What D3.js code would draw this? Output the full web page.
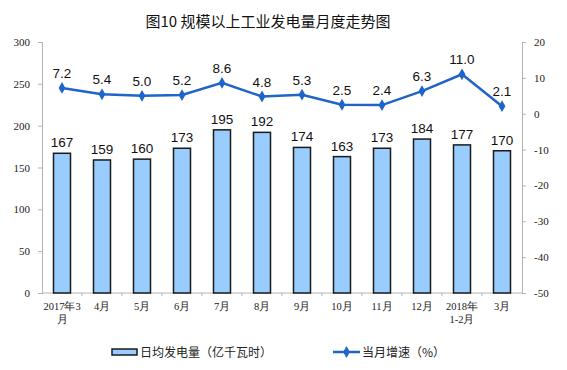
<!DOCTYPE html>
<html>
<head>
<meta charset="utf-8">
<script src="https://cdn.jsdelivr.net/npm/d3@7"></script>
<style>
  body { margin: 0; background: #fff; }
  svg { display: block; }
</style>
</head>
<body>
<svg id="chart" width="567" height="370"></svg>
<script>
// data
const months = ['2017年3月', '4月', '5月', '6月', '7月', '8月', '9月', '10月', '11月', '12月', '2018年1-2月', '3月'];
const monthLines = [['2017年3', '月'], ['4月'], ['5月'], ['6月'], ['7月'], ['8月'], ['9月'], ['10月'], ['11月'], ['12月'], ['2018年', '1-2月'], ['3月']];
const dailyOutput = [167, 159, 160, 173, 195, 192, 174, 163, 173, 184, 177, 170];
const growth = [7.2, 5.4, 5.0, 5.2, 8.6, 4.8, 5.3, 2.5, 2.4, 6.3, 11.0, 2.1];
const leftTicks = [0, 50, 100, 150, 200, 250, 300];
const rightTicks = [-50, -40, -30, -20, -10, 0, 10, 20];

const svg = d3.select('#chart');
const margin = { top: 42, right: 45, bottom: 77, left: 42 };
const W = 567, H = 370;
const plotW = W - margin.left - margin.right;
const plotH = H - margin.top - margin.bottom;

const serif = '"Liberation Serif", "Times New Roman", serif';
const sans = '"Liberation Sans", Arial, "Noto Sans CJK SC", sans-serif';
const cjk = '"Noto Sans CJK SC", sans-serif';
const axisColor = '#b3b3b3';
const lineColor = '#1f64c8';

const g = svg.append('g').attr('transform', `translate(${margin.left},${margin.top})`);

const x = d3.scaleBand().domain(months).range([0, plotW]).paddingInner(0).paddingOuter(0);
const yL = d3.scaleLinear().domain([0, 300]).range([plotH, 0]);
const yR = d3.scaleLinear().domain([-50, 20]).range([plotH, 0]);

// title
svg.append('text')
  .attr('x', 268).attr('y', 27)
  .attr('text-anchor', 'middle')
  .attr('font-family', cjk)
  .attr('font-size', 15)
  .attr('font-weight', 400)
  .attr('fill', '#111')
  .text('图10 规模以上工业发电量月度走势图');

// left axis
const leftAxis = g.append('g')
  .call(d3.axisLeft(yL).tickValues(leftTicks).tickSize(4).tickPadding(8).tickFormat(d => String(d)));
leftAxis.select('.domain').attr('stroke', axisColor);
leftAxis.selectAll('.tick line').attr('stroke', axisColor);
leftAxis.selectAll('.tick text')
  .attr('font-family', serif).attr('font-size', 11).attr('fill', '#222');

// right axis (plain hyphen for negatives, as in the original)
const rightAxis = g.append('g')
  .attr('transform', `translate(${plotW},0)`)
  .call(d3.axisRight(yR).tickValues(rightTicks).tickSize(4).tickPadding(8).tickFormat(d => String(d)));
rightAxis.select('.domain').attr('stroke', axisColor);
rightAxis.selectAll('.tick line').attr('stroke', axisColor);
rightAxis.selectAll('.tick text')
  .attr('font-family', serif).attr('font-size', 11).attr('fill', '#222');

// bottom axis (ticks at band boundaries)
const bottom = g.append('g').attr('transform', `translate(0,${plotH})`);
bottom.append('line')
  .attr('x1', 0).attr('x2', plotW)
  .attr('stroke', axisColor);
bottom.selectAll('.bt')
  .data(months.slice(1))
  .join('line')
  .attr('x1', d => x(d)).attr('x2', d => x(d))
  .attr('y1', 0).attr('y2', 3)
  .attr('stroke', axisColor);
const lbl = bottom.selectAll('.xl')
  .data(months)
  .join('text')
  .attr('text-anchor', 'middle')
  .attr('font-family', serif)
  .attr('font-size', 10.5)
  .attr('fill', '#222')
  .attr('transform', d => `translate(${x(d) + x.bandwidth() / 2},17)`);
lbl.each(function (d, i) {
  d3.select(this).selectAll('tspan')
    .data(monthLines[i])
    .join('tspan')
    .attr('x', 0)
    .attr('dy', (t, j) => j === 0 ? 0 : 13)
    .text(t => t);
});

// bars
const barW = 17;
g.selectAll('.bar')
  .data(dailyOutput)
  .join('rect')
  .attr('x', (d, i) => x(months[i]) + x.bandwidth() / 2 - barW / 2)
  .attr('y', d => yL(d))
  .attr('width', barW)
  .attr('height', d => plotH - yL(d))
  .attr('fill', '#99ccff')
  .attr('stroke', '#1a1a1a')
  .attr('stroke-width', 1.5);

g.selectAll('.barlbl')
  .data(dailyOutput)
  .join('text')
  .attr('x', (d, i) => x(months[i]) + x.bandwidth() / 2)
  .attr('y', d => yL(d) - 6)
  .attr('text-anchor', 'middle')
  .attr('font-family', sans)
  .attr('font-size', 13.5)
  .attr('fill', '#111')
  .text(d => d);

// growth line
const line = d3.line()
  .x((d, i) => x(months[i]) + x.bandwidth() / 2)
  .y(d => yR(d));
g.append('path')
  .datum(growth)
  .attr('d', line)
  .attr('fill', 'none')
  .attr('stroke', lineColor)
  .attr('stroke-width', 2.5);

const diamond = d3.symbol().type(d3.symbolDiamond).size(40);
g.selectAll('.pt')
  .data(growth)
  .join('path')
  .attr('d', diamond)
  .attr('transform', (d, i) => `translate(${x(months[i]) + x.bandwidth() / 2},${yR(d)})`)
  .attr('fill', lineColor);

g.selectAll('.ptlbl')
  .data(growth)
  .join('text')
  .attr('x', (d, i) => x(months[i]) + x.bandwidth() / 2)
  .attr('y', d => yR(d) - 10)
  .attr('text-anchor', 'middle')
  .attr('font-family', sans)
  .attr('font-size', 13.5)
  .attr('fill', '#111')
  .text(d => d.toFixed(1));

// legend
const legend = svg.append('g').attr('transform', 'translate(0,352)');
legend.append('rect')
  .attr('x', 112).attr('y', -3).attr('width', 25).attr('height', 6)
  .attr('fill', '#99ccff').attr('stroke', '#1a1a1a').attr('stroke-width', 1.5);
legend.append('text')
  .attr('x', 140).attr('y', 5)
  .attr('font-family', cjk).attr('font-size', 12).attr('fill', '#222')
  .text('日均发电量（亿千瓦时）');
legend.append('line')
  .attr('x1', 333).attr('x2', 360).attr('y1', 0).attr('y2', 0)
  .attr('stroke', lineColor).attr('stroke-width', 2.5);
legend.append('path')
  .attr('d', diamond)
  .attr('transform', 'translate(346.5,0)')
  .attr('fill', lineColor);
legend.append('text')
  .attr('x', 362).attr('y', 5)
  .attr('font-family', cjk).attr('font-size', 12).attr('fill', '#222')
  .text('当月增速（%）');
</script>
</body>
</html>
